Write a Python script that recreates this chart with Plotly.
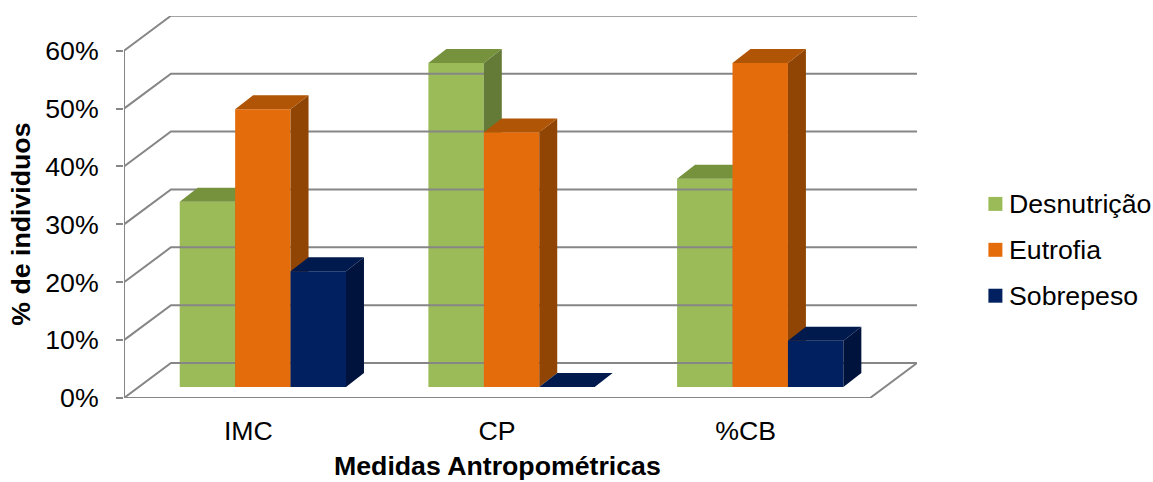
import plotly.graph_objects as go

# Chart content
categories = ["IMC", "CP", "%CB"]
series_names = ["Desnutrição", "Eutrofia", "Sobrepeso"]
desnutricao = [32, 56, 36]
eutrofia = [48, 44, 56]
sobrepeso = [20, 0, 8]
percent_ticks = [0, 10, 20, 30, 40, 50, 60]

front_colors = ["#9BBB59", "#E46C0A", "#002060"]
top_colors = ["#76923C", "#B05405", "#001A4E"]
side_colors = ["#647A37", "#914504", "#00133D"]
GRID = "#868686"

# Oblique projection, in axis units (1 x unit = one category, y unit = percent)
X_UNIT_PX = 249.0
Y_UNIT_PX = 5.8
WALL_DX = 47 / X_UNIT_PX
WALL_DY = 35 / Y_UNIT_PX
BAR_DX = 18 / X_UNIT_PX
BAR_DY = 14 / Y_UNIT_PX
FLOOR = 11 / Y_UNIT_PX
BAR_W = 55.5 / X_UNIT_PX
FIRST_BAR = -0.2760
X_LEFT, X_RIGHT = -0.5, 2.5
cat_pos = list(range(len(categories)))

fig = go.Figure()

# Back wall, left wall and floor outline
gx, gy = [], []
for v in percent_ticks:
    gx += [X_LEFT, X_LEFT + WALL_DX, X_RIGHT + WALL_DX, None]
    gy += [v, v + WALL_DY, v + WALL_DY, None]
gx += [X_LEFT, X_LEFT, X_RIGHT, X_RIGHT + WALL_DX]
gy += [percent_ticks[-1], 0, 0, WALL_DY]
fig.add_trace(go.Scatter(x=gx, y=gy, mode="lines", cliponaxis=False,
                         line=dict(color=GRID, width=2), hoverinfo="skip", showlegend=False))

# One overlaid axis pair per series, so later series cover the depth of earlier ones
for i, (name, vals) in enumerate(zip(series_names, [desnutricao, eutrofia, sobrepeso])):
    xa = "x" if i == 0 else f"x{i + 1}"
    ya = "y" if i == 0 else f"y{i + 1}"
    offset = FIRST_BAR + i * BAR_W
    tx, ty, sx, sy = [], [], [], []
    for c, v in zip(cat_pos, vals):
        l = c + offset
        r = l + BAR_W
        h = FLOOR + v
        tx += [l, r, r + BAR_DX, l + BAR_DX, l, None]
        ty += [h, h, h + BAR_DY, h + BAR_DY, h, None]
        sx += [r, r + BAR_DX, r + BAR_DX, r, r, None]
        sy += [FLOOR, FLOOR + BAR_DY, h + BAR_DY, h, FLOOR, None]
    fig.add_trace(go.Scatter(x=sx, y=sy, xaxis=xa, yaxis=ya, mode="lines", fill="toself",
                             fillcolor=side_colors[i], line=dict(width=0),
                             cliponaxis=False, hoverinfo="skip", showlegend=False))
    fig.add_trace(go.Scatter(x=tx, y=ty, xaxis=xa, yaxis=ya, mode="lines", fill="toself",
                             fillcolor=top_colors[i], line=dict(width=0),
                             cliponaxis=False, hoverinfo="skip", showlegend=False))
    fig.add_trace(go.Bar(x=cat_pos, y=vals, base=FLOOR, name=name, xaxis=xa, yaxis=ya,
                         width=BAR_W, offset=offset, marker=dict(color=front_colors[i], line=dict(width=0)),
                         showlegend=False))

FONT = "Liberation Sans, Arial, sans-serif"
TXT = 26.7
x_range = [X_LEFT, X_LEFT + 794 / X_UNIT_PX]
y_range = [0, 66]

layout = dict(
    width=1153, height=482,
    margin=dict(l=123.5, r=235.5, t=15.7, b=83.5, pad=0),
    paper_bgcolor="white", plot_bgcolor="white",
    barmode="overlay",
    font=dict(family=FONT, size=TXT, color="black"),
    xaxis=dict(range=x_range, tickmode="array", tickvals=cat_pos, ticktext=categories,
               showgrid=False, zeroline=False, showline=False, ticks="outside", ticklen=9,
               tickcolor="rgba(0,0,0,0)", tickfont=dict(size=TXT)),
    yaxis=dict(range=y_range, tickmode="array", tickvals=percent_ticks,
               ticktext=[f"{v}%" for v in percent_ticks],
               showgrid=False, zeroline=False, showline=False, ticks="outside", ticklen=7,
               tickwidth=2, tickcolor=GRID, ticklabelstandoff=12, tickfont=dict(size=TXT)),
    shapes=[], annotations=[],
)
for i in (2, 3):
    layout[f"xaxis{i}"] = dict(range=x_range, overlaying="x", visible=False)
    layout[f"yaxis{i}"] = dict(range=y_range, overlaying="y", visible=False)

# Axis titles
layout["annotations"].append(dict(text="<b>Medidas Antropométricas</b>", xref="x", yref="paper",
                                  x=1, y=-0.178, yanchor="middle", xanchor="center",
                                  showarrow=False, font=dict(size=TXT)))
layout["annotations"].append(dict(text="<b>% de individuos</b>", xref="paper", yref="y",
                                  x=-0.1295, y=30, textangle=-90, xanchor="center", yanchor="middle",
                                  showarrow=False, font=dict(size=TXT)))

# Series key to the right of the walls
plot_w = 1153 - 123.5 - 235.5
plot_h = 482 - 15.7 - 83.5
for i, name in enumerate(series_names):
    cy = 1 - (204 + 46 * i - 15.7) / plot_h
    layout["shapes"].append(dict(type="rect", xref="paper", yref="paper",
                                 x0=(989 - 123.5) / plot_w, x1=(1003 - 123.5) / plot_w,
                                 y0=cy - 7 / plot_h, y1=cy + 7 / plot_h,
                                 fillcolor=front_colors[i], line=dict(width=0)))
    layout["annotations"].append(dict(text=name, xref="paper", yref="paper",
                                      x=(1008 - 123.5) / plot_w, y=cy, xanchor="left", yanchor="middle",
                                      showarrow=False, font=dict(size=TXT)))

fig.update_layout(**layout)
fig.write_html("out.html", config=dict(displayModeBar=False))
